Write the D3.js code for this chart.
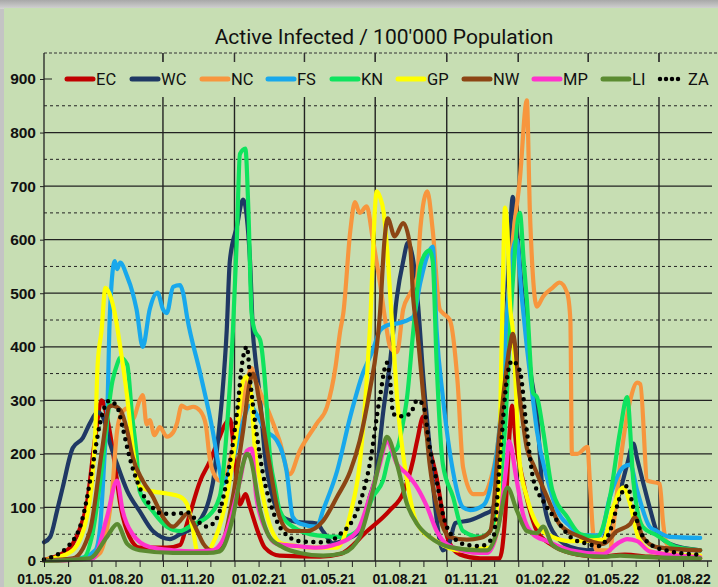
<!DOCTYPE html>
<html>
<head>
<meta charset="utf-8">
<script src="https://cdn.jsdelivr.net/npm/d3@7"></script>
<style>
  body { margin: 0; background: #c9c9c9; }
  svg { display: block; font-family: Roboto, "Liberation Sans", sans-serif; }
</style>
</head>
<body>
<div id="container"></div>
<script>
const width = 718, height = 587;

/* DATA  (date dd.mm.yy, active infected per 100'000) */
const ec = [["01.05.20",2],["09.05.20",5],["22.05.20",12],["07.06.20",32],["16.06.20",60],["25.06.20",106],["06.07.20",232],["14.07.20",300],["21.07.20",269],["27.07.20",220],["31.07.20",181],["07.08.20",107],["19.08.20",45],["01.09.20",25],["06.10.20",25],["23.10.20",30],["01.11.20",70],["18.11.20",150],["30.11.20",185],["11.12.20",225],["20.12.20",255],["26.12.20",265],["02.01.21",180],["08.01.21",105],["15.01.21",125],["21.01.21",100],["31.01.21",55],["09.02.21",25],["28.02.21",10],["21.04.21",8],["17.05.21",13],["20.06.21",55],["20.07.21",95],["06.08.21",127],["19.08.21",190],["24.08.21",225],["01.09.21",270],["06.09.21",230],["18.09.21",155],["02.10.21",43],["18.10.21",12],["13.11.21",5],["08.12.21",5],["15.12.21",80],["21.12.21",243],["24.12.21",290],["29.12.21",220],["07.01.22",150],["25.01.22",56],["11.02.22",32],["09.03.22",15],["16.04.22",8],["18.05.22",12],["19.06.22",8],["23.08.22",5]];

const wc = [["01.05.20",35],["09.05.20",45],["18.05.20",95],["25.05.20",137],["07.06.20",211],["20.06.20",230],["29.06.20",257],["09.07.20",278],["17.07.20",265],["24.07.20",224],["03.08.20",181],["16.08.20",131],["01.09.20",93],["18.09.20",56],["10.10.20",41],["23.10.20",50],["14.11.20",69],["04.12.20",144],["11.12.20",230],["16.12.20",305],["22.12.20",430],["26.12.20",560],["04.01.21",624],["12.01.21",675],["17.01.21",640],["21.01.21",560],["25.01.21",420],["27.01.21",390],["03.02.21",300],["09.02.21",200],["19.02.21",120],["04.03.21",82],["22.03.21",73],["17.04.21",70],["25.04.21",55],["08.05.21",33],["23.05.21",40],["11.06.21",56],["24.06.21",120],["03.07.21",168],["11.07.21",275],["20.07.21",370],["29.07.21",494],["06.08.21",560],["12.08.21",594],["19.08.21",560],["25.08.21",480],["01.09.21",340],["09.09.21",213],["17.09.21",90],["26.09.21",20],["05.10.21",37],["12.10.21",71],["31.10.21",76],["19.11.21",88],["28.11.21",95],["08.12.21",200],["15.12.21",400],["21.12.21",600],["25.12.21",680],["30.12.21",620],["07.01.22",488],["12.01.22",431],["16.01.22",363],["25.01.22",275],["02.02.22",120],["14.02.22",56],["09.03.22",26],["31.03.22",20],["16.04.22",30],["29.04.22",70],["12.05.22",131],["21.05.22",180],["29.05.22",219],["03.06.22",190],["10.06.22",150],["19.06.22",100],["28.06.22",56],["15.07.22",32],["23.08.22",20]];

const nc = [["01.05.20",2],["29.06.20",5],["12.07.20",15],["21.07.20",60],["27.07.20",120],["03.08.20",243],["07.08.20",270],["16.08.20",285],["23.08.20",265],["01.09.20",300],["05.09.20",310],["10.09.20",255],["14.09.20",263],["20.09.20",235],["27.09.20",250],["06.10.20",232],["14.10.20",240],["19.10.20",257],["25.10.20",290],["01.11.20",285],["09.11.20",288],["18.11.20",280],["25.11.20",255],["30.11.20",194],["04.12.20",168],["13.12.20",150],["22.12.20",165],["02.01.21",230],["15.01.21",320],["23.01.21",360],["27.01.21",340],["03.02.21",315],["15.02.21",275],["28.02.21",224],["13.03.21",162],["26.03.21",206],["17.04.21",257],["30.04.21",288],["11.05.21",363],["17.05.21",430],["21.05.21",463],["30.05.21",617],["05.06.21",670],["11.06.21",650],["20.06.21",662],["28.06.21",600],["07.07.21",520],["16.07.21",430],["20.07.21",400],["29.07.21",390],["06.08.21",470],["15.08.21",500],["24.08.21",530],["28.08.21",620],["06.09.21",690],["13.09.21",617],["22.09.21",470],["26.09.21",463],["05.10.21",450],["15.10.21",333],["22.10.21",175],["04.11.21",125],["17.11.21",125],["26.11.21",150],["08.12.21",250],["17.12.21",450],["25.12.21",600],["03.01.22",712],["12.01.22",860],["16.01.22",650],["25.01.22",475],["02.02.22",494],["14.02.22",510],["23.02.22",520],["05.03.22",500],["09.03.22",450],["11.03.22",200],["18.03.22",200],["31.03.22",213],["03.04.22",150],["07.04.22",56],["12.04.22",20],["29.04.22",20],["03.05.22",60],["12.05.22",181],["25.05.22",300],["03.06.22",333],["07.06.22",330],["16.06.22",150],["02.07.22",144],["06.07.22",75],["11.07.22",32],["28.07.22",10],["23.08.22",5]];

const fs = [["01.05.20",1],["16.06.20",5],["06.07.20",20],["12.07.20",60],["18.07.20",200],["22.07.20",306],["24.07.20",430],["27.07.20",520],["31.07.20",560],["03.08.20",545],["07.08.20",557],["16.08.20",531],["23.08.20",501],["28.08.20",470],["05.09.20",400],["14.09.20",470],["24.09.20",501],["01.10.20",470],["06.10.20",463],["14.10.20",512],["23.10.20",515],["27.10.20",500],["01.11.20",456],["18.11.20",350],["04.12.20",243],["13.12.20",168],["17.12.20",144],["26.12.20",170],["08.01.21",240],["21.01.21",290],["31.01.21",270],["09.02.21",245],["24.02.21",226],["04.03.21",200],["09.03.21",168],["17.03.21",82],["26.03.21",70],["17.04.21",64],["25.04.21",95],["13.05.21",168],["30.05.21",270],["15.06.21",350],["28.06.21",394],["07.07.21",430],["16.07.21",440],["02.08.21",445],["19.08.21",456],["28.08.21",520],["06.09.21",570],["13.09.21",587],["18.09.21",430],["26.09.21",306],["09.10.21",168],["22.10.21",100],["31.10.21",95],["17.11.21",104],["24.11.21",125],["28.11.21",150],["08.12.21",250],["17.12.21",450],["25.12.21",580],["30.12.21",600],["05.01.22",500],["12.01.22",400],["20.01.22",300],["25.01.22",243],["07.02.22",155],["20.02.22",95],["09.03.22",64],["22.03.22",48],["16.04.22",48],["29.04.22",120],["16.05.22",175],["25.05.22",180],["03.06.22",131],["19.06.22",64],["28.06.22",56],["15.07.22",45],["23.08.22",43]];

const kn = [["01.05.20",1],["20.06.20",5],["03.07.20",56],["15.07.20",181],["28.07.20",336],["03.08.20",367],["07.08.20",380],["16.08.20",367],["22.08.20",276],["28.08.20",200],["01.09.20",131],["18.09.20",93],["06.10.20",64],["23.10.20",56],["09.11.20",69],["27.11.20",82],["13.12.20",120],["22.12.20",243],["30.12.20",430],["04.01.21",600],["08.01.21",760],["15.01.21",770],["19.01.21",650],["23.01.21",463],["27.01.21",430],["03.02.21",413],["11.02.21",300],["15.02.21",206],["22.02.21",140],["28.02.21",95],["17.03.21",64],["17.04.21",48],["21.05.21",45],["11.06.21",60],["28.06.21",120],["11.07.21",150],["20.07.21",200],["29.07.21",210],["06.08.21",260],["11.08.21",306],["19.08.21",430],["28.08.21",550],["04.09.21",575],["09.09.21",580],["13.09.21",560],["18.09.21",370],["26.09.21",181],["09.10.21",120],["22.10.21",56],["13.11.21",45],["22.11.21",50],["02.12.21",80],["15.12.21",250],["24.12.21",500],["03.01.22",650],["08.01.22",560],["12.01.22",488],["20.01.22",314],["25.01.22",306],["02.02.22",243],["14.02.22",131],["05.03.22",82],["22.03.22",50],["12.04.22",45],["29.04.22",120],["12.05.22",243],["21.05.22",306],["29.05.22",150],["10.06.22",64],["28.06.22",48],["24.07.22",26],["23.08.22",20]];

const gp = [["01.05.20",1],["13.05.20",5],["07.06.20",20],["25.06.20",82],["06.07.20",243],["09.07.20",367],["14.07.20",430],["19.07.20",510],["24.07.20",500],["31.07.20",463],["07.08.20",400],["16.08.20",306],["23.08.20",213],["01.09.20",140],["18.09.20",130],["06.10.20",126],["23.10.20",120],["01.11.20",106],["09.11.20",56],["14.11.20",19],["27.11.20",18],["04.12.20",32],["22.12.20",120],["04.01.21",243],["12.01.21",336],["17.01.21",345],["23.01.21",300],["27.01.21",213],["03.02.21",150],["15.02.21",69],["04.03.21",32],["17.04.21",25],["13.05.21",25],["30.05.21",88],["11.06.21",181],["20.06.21",336],["24.06.21",430],["03.07.21",690],["07.07.21",680],["12.07.21",650],["16.07.21",587],["23.07.21",437],["29.07.21",306],["11.08.21",150],["24.08.21",69],["18.09.21",37],["15.10.21",20],["26.11.21",25],["05.12.21",56],["11.12.21",430],["15.12.21",660],["18.12.21",620],["21.12.21",488],["25.12.21",430],["03.01.22",181],["12.01.22",120],["25.01.22",69],["14.02.22",45],["09.03.22",37],["20.04.22",40],["03.05.22",100],["16.05.22",137],["25.05.22",106],["03.06.22",50],["10.06.22",30],["28.06.22",15],["23.08.22",10]];

const nw = [["01.05.20",1],["07.06.20",5],["29.06.20",56],["15.07.20",211],["24.07.20",288],["28.07.20",290],["07.08.20",282],["16.08.20",243],["23.08.20",194],["05.09.20",150],["18.09.20",120],["01.10.20",82],["14.10.20",64],["23.10.20",75],["01.11.20",88],["14.11.20",56],["22.11.20",32],["04.12.20",19],["16.12.20",32],["30.12.20",120],["12.01.21",243],["21.01.21",336],["25.01.21",350],["03.02.21",288],["15.02.21",181],["28.02.21",82],["13.03.21",56],["04.04.21",56],["25.04.21",75],["13.05.21",120],["30.05.21",168],["11.06.21",224],["24.06.21",318],["03.07.21",400],["07.07.21",460],["13.07.21",600],["17.07.21",640],["26.07.21",606],["06.08.21",631],["15.08.21",587],["19.08.21",488],["24.08.21",430],["01.09.21",306],["09.09.21",181],["22.09.21",82],["05.10.21",45],["27.10.21",40],["13.11.21",43],["26.11.21",56],["08.12.21",243],["21.12.21",400],["25.12.21",424],["03.01.22",306],["12.01.22",211],["20.01.22",181],["07.02.22",120],["23.02.22",69],["22.03.22",45],["20.04.22",32],["08.05.22",56],["25.05.22",69],["31.05.22",82],["10.06.22",45],["28.06.22",26],["23.08.22",20]];

const mp = [["01.05.20",0],["03.07.20",5],["21.07.20",82],["03.08.20",150],["10.08.20",95],["23.08.20",50],["14.09.20",26],["14.10.20",20],["09.11.20",18],["04.12.20",20],["22.12.20",56],["08.01.21",150],["17.01.21",206],["23.01.21",210],["29.01.21",120],["11.02.21",56],["24.02.21",32],["22.03.21",28],["17.04.21",25],["13.05.21",32],["08.06.21",56],["24.06.21",120],["07.07.21",181],["16.07.21",224],["29.07.21",181],["11.08.21",162],["24.08.21",137],["06.09.21",100],["18.09.21",56],["05.10.21",28],["13.11.21",15],["22.11.21",15],["05.12.21",56],["17.12.21",181],["20.12.21",224],["30.12.21",150],["07.01.22",88],["20.01.22",50],["07.02.22",37],["09.03.22",20],["20.04.22",13],["08.05.22",32],["21.05.22",41],["03.06.22",37],["19.06.22",18],["23.08.22",7]];

const li = [["01.05.20",0],["29.06.20",5],["21.07.20",45],["03.08.20",69],["16.08.20",32],["01.09.20",20],["14.10.20",15],["27.11.20",15],["13.12.20",18],["30.12.20",82],["12.01.21",181],["17.01.21",200],["21.01.21",194],["03.02.21",95],["15.02.21",45],["04.03.21",26],["26.03.21",15],["25.04.21",10],["21.05.21",15],["11.06.21",45],["28.06.21",131],["11.07.21",211],["16.07.21",232],["29.07.21",181],["11.08.21",106],["24.08.21",69],["09.09.21",45],["05.10.21",26],["13.11.21",20],["22.11.21",20],["05.12.21",56],["18.12.21",137],["30.12.21",95],["12.01.22",56],["25.01.22",52],["02.02.22",64],["14.02.22",30],["09.03.22",15],["20.04.22",8],["12.05.22",10],["03.06.22",8],["23.08.22",5]];

const za = [["01.05.20",3],["31.05.20",26],["20.06.20",82],["03.07.20",181],["12.07.20",257],["24.07.20",299],["03.08.20",288],["10.08.20",250],["19.08.20",194],["01.09.20",137],["14.09.20",106],["01.10.20",88],["19.10.20",88],["01.11.20",91],["14.11.20",75],["27.11.20",64],["10.12.20",82],["22.12.20",150],["04.01.21",275],["12.01.21",380],["17.01.21",400],["21.01.21",340],["29.01.21",243],["06.02.21",168],["19.02.21",95],["04.03.21",56],["26.03.21",37],["25.04.21",35],["17.05.21",50],["08.06.21",95],["24.06.21",181],["07.07.21",306],["16.07.21",370],["20.07.21",340],["24.07.21",275],["02.08.21",270],["15.08.21",275],["24.08.21",300],["01.09.21",290],["09.09.21",213],["18.09.21",150],["26.09.21",88],["09.10.21",45],["27.10.21",30],["13.11.21",28],["30.11.21",45],["08.12.21",181],["17.12.21",336],["24.12.21",374],["03.01.22",355],["12.01.22",243],["20.01.22",155],["02.02.22",112],["20.02.22",75],["09.03.22",45],["31.03.22",32],["16.04.22",28],["29.04.22",56],["12.05.22",120],["21.05.22",140],["29.05.22",100],["07.06.22",56],["19.06.22",32],["15.07.22",18],["19.08.22",12]];

const names = ["EC", "WC", "NC", "FS", "KN", "GP", "NW", "MP", "LI", "ZA"];
const colors = ["#c00000", "#1f3864", "#f7963e", "#18a8ec", "#0fe35e", "#ffff00", "#8c4514", "#ff33cc", "#5b8b31", "#000000"];
const yTicks = [0, 100, 200, 300, 400, 500, 600, 700, 800, 900];
const title = "Active Infected / 100'000 Population";

const parse = d3.timeParse("%d.%m.%y");
const fmt = d3.timeFormat("%d.%m.%y");
const series = [ec, wc, nc, fs, kn, gp, nw, mp, li, za].map((s, i) => ({
  name: names[i],
  color: colors[i],
  values: s.map(d => ({ date: parse(d[0]), value: d[1] }))
}));

const bg = "#c7deb3";

// append svg
const svg = d3.select("#container").append("svg")
  .attr("width", width)
  .attr("height", height)

// frame + background
const shade = svg.append("defs").append("linearGradient")
  .attr("id", "shade").attr("x1", 0).attr("y1", 0).attr("x2", 0).attr("y2", 1)
shade.append("stop").attr("offset", 0).attr("stop-color", "#a8a8a8")
shade.append("stop").attr("offset", 1).attr("stop-color", "#d4d4d4")
svg.append("rect").attr("width", width).attr("height", height).attr("fill", "#c4c4c4")
svg.append("rect").attr("width", width).attr("height", 9).attr("fill", "url(#shade)")
svg.append("rect").attr("x", 4).attr("y", 8).attr("width", width - 4).attr("height", height - 8).attr("fill", bg)

/* SCALES */
const xScale = d3.scaleTime()
  .domain([parse("01.05.20"), parse("01.09.22")])
  .range([44, 707.2])

const yScale = d3.scaleLinear()
  .domain([0, 900])
  .range([561, 79])

const plotRight = 712, plotTop = 53;

/* GRID */
const grid = svg.append("g")
d3.range(50, 900, 50).forEach(v => {
  grid.append("line")
    .attr("x1", 44).attr("x2", plotRight)
    .attr("y1", yScale(v)).attr("y2", yScale(v))
    .attr("stroke", "#222")
    .attr("stroke-width", v % 100 === 0 ? 1.3 : 1)
    .attr("stroke-dasharray", v % 100 === 0 ? null : "3,3")
})
const quarters = d3.timeMonth.every(3).range(parse("01.08.20"), parse("02.08.22"))
grid.selectAll("line.v")
  .data(quarters)
  .join("line")
  .attr("class", "v")
  .attr("x1", d => xScale(d)).attr("x2", d => xScale(d))
  .attr("y1", plotTop).attr("y2", 561)
  .attr("stroke", "#222")
  .attr("stroke-width", 1.4)

// top dashed frame line with ticks
svg.append("line")
  .attr("x1", 44).attr("x2", width)
  .attr("y1", plotTop).attr("y2", plotTop)
  .attr("stroke", "#333").attr("stroke-dasharray", "3,2")

// legend box hides the grid behind it
svg.append("rect")
  .attr("x", 53).attr("y", 62)
  .attr("width", plotRight - 53).attr("height", 35)
  .attr("fill", bg)

svg.append("g")
  .selectAll("line")
  .data(quarters)
  .join("line")
  .attr("x1", d => xScale(d)).attr("x2", d => xScale(d))
  .attr("y1", plotTop).attr("y2", plotTop + 9)
  .attr("stroke", "#333")

/* LINES */
const line = d3.line()
  .x(d => xScale(d.date))
  .y(d => yScale(d.value))
  .curve(d3.curveMonotoneX)

svg.append("g")
  .selectAll("path")
  .data(series)
  .join("path")
  .attr("d", d => line(d.values))
  .attr("fill", "none")
  .attr("stroke", d => d.color)
  .attr("stroke-width", d => d.name === "ZA" ? 4.5 : 4.2)
  .attr("stroke-linejoin", "round")
  .attr("stroke-linecap", "round")
  .attr("stroke-dasharray", d => d.name === "ZA" ? "0,7.5" : null)

/* AXES */
const xAxis = d3.axisBottom(xScale)
  .ticks(d3.timeMonth.every(1))
  .tickSize(6)
  .tickSizeOuter(0)
  .tickPadding(7)
  .tickFormat(d => d.getMonth() % 3 === 1 ? fmt(d) : "")

svg.append("g")
  .attr("transform", `translate(0, 561)`)
  .call(xAxis)
  .call(g => g.select(".domain").attr("d", `M44,0H${plotRight}`).attr("stroke", "#222").attr("stroke-width", 1.3))
  .call(g => g.selectAll(".tick line").attr("stroke", "#222"))
  .call(g => g.selectAll("text")
    .style("font-size", "14px")
    .style("font-weight", "bold")
    .attr("fill", "#111"))

const yAxis = d3.axisLeft(yScale)
  .tickValues(yTicks)
  .tickSize(4)
  .tickPadding(4)

svg.append("g")
  .attr("transform", `translate(44, 0)`)
  .call(yAxis)
  .call(g => g.select(".domain").remove())
  .call(g => g.selectAll(".tick line").attr("stroke", "#222"))
  .call(g => g.selectAll("text")
    .style("font-size", "15.5px")
    .style("font-weight", "bold")
    .attr("fill", "#111"))

svg.append("line")
  .attr("x1", 44).attr("x2", 44)
  .attr("y1", plotTop).attr("y2", 561)
  .attr("stroke", "#222").attr("stroke-width", 1.3)
svg.append("line")
  .attr("x1", 44).attr("x2", 52)
  .attr("y1", yScale(900)).attr("y2", yScale(900))
  .attr("stroke", "#222")

/* LEGEND */
const legendX = [67, 132, 202, 268, 332, 398, 464, 534, 603, 660];
const legend = svg.append("g")
  .selectAll("g")
  .data(series)
  .join("g")
  .attr("transform", (d, i) => `translate(${legendX[i]}, ${yScale(900)})`)

legend.append("line")
  .attr("x1", 0).attr("x2", d => d.name === "ZA" ? 22 : 26)
  .attr("stroke", d => d.color)
  .attr("stroke-width", d => d.name === "ZA" ? 4.5 : 5)
  .attr("stroke-linecap", "round")
  .attr("stroke-dasharray", d => d.name === "ZA" ? "0,6" : null)

legend.append("text")
  .attr("x", d => d.name === "ZA" ? 28 : 29)
  .attr("y", 6)
  .style("font-size", "16.5px")
  .attr("fill", "#111")
  .text(d => d.name)

/* TITLE */
svg.append("text")
  .attr("text-anchor", "middle")
  .attr("x", 384)
  .attr("y", 44)
  .style("font-size", "21px")
  .attr("fill", "#111")
  .text(title)
</script>
</body>
</html>
